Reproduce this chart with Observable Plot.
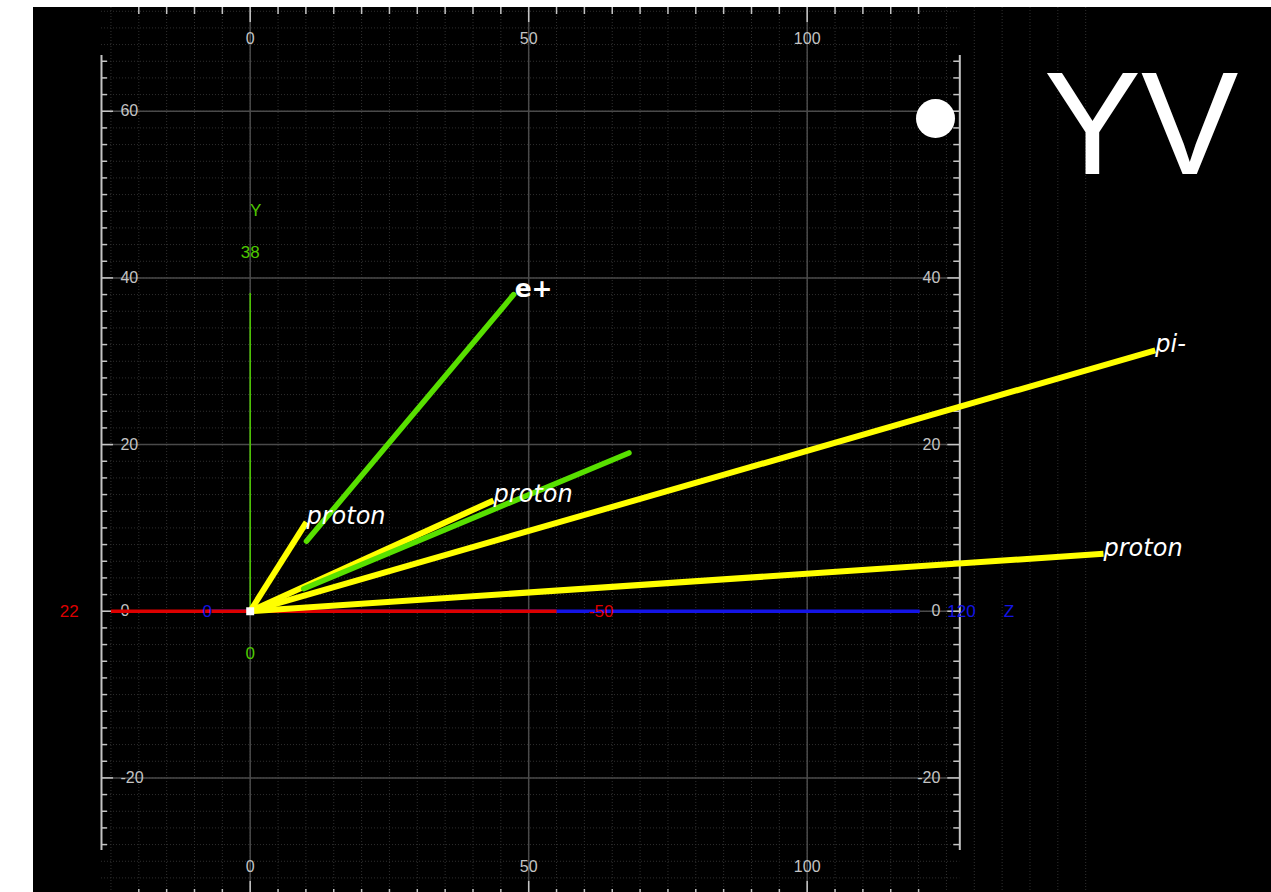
<!DOCTYPE html>
<html><head><meta charset="utf-8">
<script src="https://cdn.jsdelivr.net/npm/d3@7"></script>
<script src="https://cdn.jsdelivr.net/npm/@observablehq/plot@0.6"></script>
<style>
html,body{margin:0;padding:0;background:#fff;}
#chart{position:absolute;left:33px;top:7px;width:1238px;height:885px;background:#000;overflow:hidden;}
#chart svg{display:block;}
</style></head><body><div id="chart"></div>
<script>
// ---- Tracks (event display, Y vs Z view) ----
const trackParticle = ["e+", "e+", "proton", "proton", "pi-", "proton"];
const trackLabel    = ["e+", "", "proton", "proton", "pi-", "proton"];
const trackX1 = [10.1, 9.6, 0, 0, 0, 0];
const trackY1 = [8.4, 2.7, 0, 0, 0, 0];
const trackX2 = [47.3, 68.0, 10.1, 43.7, 162.5, 153.2];
const trackY2 = [38.0, 19.0, 10.7, 13.3, 31.3, 6.9];

// ---- Ruler / grid tick values ----
const xTickLabels = [0, 50, 100];
const yTickLabels = [60, 40, 20, 0, -20];
const xRulerTicks = d3.range(-20, 121, 5);
const yRulerTicks = d3.range(-28, 67, 2);
const xMinorGrid = d3.range(-25, 151, 5);
const yMinorGrid = d3.range(-34, 73, 2);

// ---- 3D axis projections and their labels ----
const axisName   = ["X", "Z", "Y"];
const axisFrom   = [[-25, 0], [-7.7, 0], [0, 0]];
const axisTo     = [[55, 0], [120.2, 0], [0, 38.2]];
const axisLabelText = ["22", "0", "-50", "120", "Z", "Y", "38", "0"];
const axisLabelAxis = ["X", "Z", "X", "Z", "Z", "Y", "Y", "Y"];
const axisLabelX    = [-32.5, -7.7, 63.0, 127.7, 136.2, 1.0, 0, 0];
const axisLabelY    = [0, 0, 0, 0, 0, 48.1, 43.0, -5.1];

const titleText = "YV";

// ---- layout ----
const W = 1238, H = 885;
const xDomain = [-38.905, 183.36];
const yDomain = [-33.75, 72.45];
const kx = W / (xDomain[1] - xDomain[0]);
const ky = H / (yDomain[1] - yDomain[0]);
const leftRulerX = -26.7, rightRulerX = 127.4, rulerYMin = -28.7, rulerYMax = 66.7;
const topY = yDomain[1];
const bottomRulerY = yDomain[1] - 889 / ky;

const tracks = trackParticle.map((p, i) => ({
  particle: p, label: trackLabel[i],
  x1: trackX1[i], y1: trackY1[i], x2: trackX2[i], y2: trackY2[i]
}));
const axes = axisName.map((a, i) => ({axis: a, x1: axisFrom[i][0], y1: axisFrom[i][1], x2: axisTo[i][0], y2: axisTo[i][1]}));
const axisLabels = axisLabelText.map((t, i) => ({text: t, axis: axisLabelAxis[i], x: axisLabelX[i], y: axisLabelY[i]}));

const isMajorY = v => v % 20 === 0;
const isMajorX = v => v % 50 === 0;
const gray = "#c4c4c4";
const font = "Liberation Sans, Arial, sans-serif";

const plot = Plot.plot({
  width: W, height: H, margin: 0,
  style: {background: "black", overflow: "hidden"},
  x: {domain: xDomain, axis: null},
  y: {domain: yDomain, axis: null},
  color: {domain: ["e+", "proton", "pi-", "X", "Y", "Z"],
          range: ["#58e000", "#ffff00", "#ffff00", "#dd0000", "#4ec800", "#1414e6"]},
  marks: [
    // dotted minor grid
    Plot.ruleX(xMinorGrid, {stroke: "#303030", strokeDasharray: "1,2", strokeWidth: 1}),
    Plot.ruleY(yMinorGrid, {x1: leftRulerX, x2: rightRulerX, stroke: "#303030", strokeDasharray: "1,2", strokeWidth: 1}),
    // major grid
    Plot.ruleX(xTickLabels, {stroke: "#4a4a4a", strokeWidth: 1.5}),
    Plot.ruleY(yTickLabels, {x1: leftRulerX, x2: rightRulerX, stroke: "#4a4a4a", strokeWidth: 1.5}),
    // left & right rulers
    Plot.ruleX([leftRulerX, rightRulerX], {y1: rulerYMin, y2: rulerYMax, stroke: gray, strokeWidth: 2}),
    Plot.ruleY(yRulerTicks, {x1: leftRulerX, x2: v => leftRulerX + (isMajorY(v) ? 12 : 6) / kx, stroke: gray, strokeWidth: 1.5}),
    Plot.ruleY(yRulerTicks, {x1: rightRulerX, x2: v => rightRulerX - (isMajorY(v) ? 12 : 6) / kx, stroke: gray, strokeWidth: 1.5}),
    // top & bottom rulers
    Plot.ruleX(xRulerTicks, {y1: topY, y2: v => topY - (isMajorX(v) ? 15 : 7) / ky, stroke: gray, strokeWidth: 1.5}),
    Plot.ruleX(xRulerTicks, {y1: bottomRulerY, y2: v => bottomRulerY + (isMajorX(v) ? 15 : 7) / ky, stroke: gray, strokeWidth: 1.5}),
    // ruler labels
    Plot.text(xTickLabels, {x: d => d, y: 68.72, text: d => String(d), fill: gray, fontSize: 16, fontFamily: font}),
    Plot.text(xTickLabels, {x: d => d, y: -30.63, text: d => String(d), fill: gray, fontSize: 16, fontFamily: font}),
    Plot.text(yTickLabels, {x: -23.3, y: d => d, text: d => String(d), fill: gray, fontSize: 16, fontFamily: font, textAnchor: "start"}),
    Plot.text(yTickLabels, {x: 123.9, y: d => d, text: d => String(d), fill: gray, fontSize: 16, fontFamily: font, textAnchor: "end"}),
    // 3D axes
    Plot.link(axes.filter(d => d.axis === "Z"), {x1: "x1", y1: "y1", x2: "x2", y2: "y2", stroke: "axis", strokeWidth: 3.5}),
    Plot.link(axes.filter(d => d.axis === "X"), {x1: "x1", y1: "y1", x2: "x2", y2: "y2", stroke: "axis", strokeWidth: 3.5}),
    Plot.link(axes.filter(d => d.axis === "Y"), {x1: "x1", y1: "y1", x2: "x2", y2: "y2", stroke: "axis", strokeWidth: 1.5}),
    Plot.text(axisLabels, {x: "x", y: "y", text: "text", fill: "axis", fontSize: 17, fontFamily: font}),
    // tracks
    Plot.link(tracks.filter(d => d.particle !== "e+"), {x1: "x1", y1: "y1", x2: "x2", y2: "y2", stroke: "particle", strokeWidth: 6}),
    Plot.link(tracks.filter(d => d.particle === "e+"), {x1: "x1", y1: "y1", x2: "x2", y2: "y2", stroke: "particle", strokeWidth: 5.5, strokeLinecap: "round"}),
    // vertex
    Plot.dot([{x: 0, y: 0}], {x: "x", y: "y", symbol: "square", r: 4.5, fill: "white"}),
    // track labels
    Plot.text(tracks.filter(d => d.label && d.particle !== "e+"), {x: "x2", y: "y2", text: "label", fill: "white", fontSize: 24, fontStyle: "italic", fontWeight: 500, fontFamily: "DejaVu Sans, sans-serif", textAnchor: "start", lineAnchor: "bottom", dy: 2}),
    Plot.text(tracks.filter(d => d.particle === "e+" && d.label), {x: "x2", y: "y2", text: "label", fill: "white", fontSize: 25, fontWeight: "bold", fontFamily: "DejaVu Sans, sans-serif", textAnchor: "start", lineAnchor: "bottom", dx: 1, dy: 2}),
    // slide-style title overlay
    Plot.dot([0], {frameAnchor: "top-right", dx: -336, dy: 111, r: 19.5, fill: "white"}),
    Plot.text([titleText], {frameAnchor: "top-right", dx: -130.5, dy: 166, text: d => d, fill: "white", fontSize: 146, fontFamily: font, textAnchor: "middle", lineAnchor: "bottom"})
  ]
});
document.getElementById("chart").appendChild(plot);
</script>
</body></html>
